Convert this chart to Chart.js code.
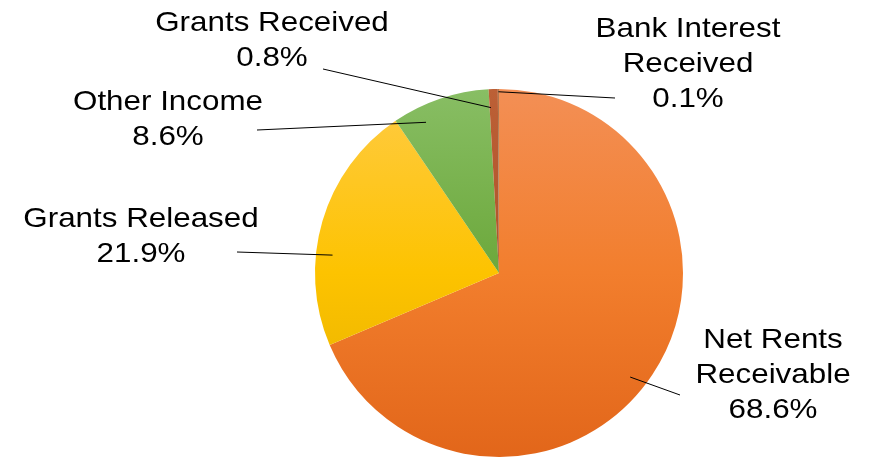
<!DOCTYPE html>
<html>
<head>
<meta charset="utf-8">
<script src="https://cdn.jsdelivr.net/npm/chart.js@4"></script>
<style>
  html, body { margin: 0; padding: 0; background: #ffffff; }
  #wrap { width: 873px; height: 459px; position: relative; }
</style>
</head>
<body>
<div id="wrap"><canvas id="myChart"></canvas></div>
<script>
// income split, clockwise from 12 o'clock
const categories = [
  ["Net Rents", "Receivable"],
  ["Grants Released"],
  ["Other Income"],
  ["Grants Received"],
  ["Bank Interest", "Received"]
];
const shares = [68.6, 21.9, 8.6, 0.8, 0.1];

// vertical gradient stops per slice (top of pie -> bottom of pie)
const sliceColors = [
  ["#F38F55", "#F27E2D", "#E2661A"],
  ["#FFCB45", "#FDC300", "#E3AE00"],
  ["#88BE64", "#6CA83B", "#5E9A2E"],
  ["#BC6036", "#B0532A", "#A2481F"],
  ["#B07A50", "#A06A40", "#905C34"]
];

// label layout: text centre / first baseline relative to pie centre,
// leader end near the text, leader start as (fraction through slice, fraction of radius)
const labelLayout = [
  { tx: 274, ty: 75,    lx: 181,  ly: 122,  f: 0.52, rf: 0.91 },
  { tx: -358, ty: -46,  lx: -262, ly: -21,  f: 0.37, rf: 0.91 },
  { tx: -331, ty: -163, lx: -242, ly: -143, f: 0.27, rf: 0.91 },
  { tx: -227, ty: -242, lx: -176, ly: -204, f: 0.15, rf: 0.90 },
  { tx: 189, ty: -236,  lx: 116,  ly: -175, f: 0.5,  rf: 0.985 }
];

const FONT = '28px "Liberation Sans", Arial, sans-serif';
const LINE_H = 35;
const STRETCH = 1.12;

function sliceFill(context) {
  const chart = context.chart;
  const area = chart.chartArea;
  const stops = sliceColors[context.dataIndex];
  if (!area || !isFinite(area.top) || !isFinite(area.bottom)) return stops[1];
  const cy = (area.top + area.bottom) / 2;
  const r = Math.min(area.right - area.left, area.bottom - area.top) / 2;
  if (!(r > 0)) return stops[1];
  const g = chart.ctx.createLinearGradient(0, cy - r, 0, cy + r);
  g.addColorStop(0, stops[0]);
  g.addColorStop(0.5, stops[1]);
  g.addColorStop(1, stops[2]);
  return g;
}

const calloutPlugin = {
  id: "callouts",
  afterDatasetsDraw(chart) {
    const ctx = chart.ctx;
    const arcs = chart.getDatasetMeta(0).data;
    ctx.save();
    arcs.forEach((arc, i) => {
      const lay = labelLayout[i];
      const cx = arc.x, cy = arc.y;
      const ang = arc.startAngle + (arc.endAngle - arc.startAngle) * lay.f;
      const r = arc.outerRadius * lay.rf;

      ctx.strokeStyle = "#000000";
      ctx.lineWidth = 1;
      ctx.beginPath();
      ctx.moveTo(cx + Math.cos(ang) * r, cy + Math.sin(ang) * r);
      ctx.lineTo(cx + lay.lx, cy + lay.ly);
      ctx.stroke();

      const lines = categories[i].concat([shares[i].toFixed(1) + "%"]);
      ctx.fillStyle = "#000000";
      ctx.font = FONT;
      ctx.textAlign = "center";
      ctx.textBaseline = "alphabetic";
      lines.forEach((t, k) => {
        ctx.save();
        ctx.translate(cx + lay.tx, cy + lay.ty + k * LINE_H);
        ctx.scale(STRETCH, 1);
        ctx.fillText(t, 0, 0);
        ctx.restore();
      });
    });
    ctx.restore();
  }
};

new Chart(document.getElementById("myChart"), {
  type: "pie",
  data: {
    labels: categories,
    datasets: [{
      data: shares,
      backgroundColor: sliceFill,
      borderWidth: 0
    }]
  },
  options: {
    responsive: true,
    maintainAspectRatio: false,
    animation: false,
    rotation: 0,
    layout: { padding: { left: 130, right: 5, top: 89, bottom: 2 } },
    plugins: {
      legend: { display: false },
      tooltip: { enabled: false }
    }
  },
  plugins: [calloutPlugin]
});
</script>
</body>
</html>
